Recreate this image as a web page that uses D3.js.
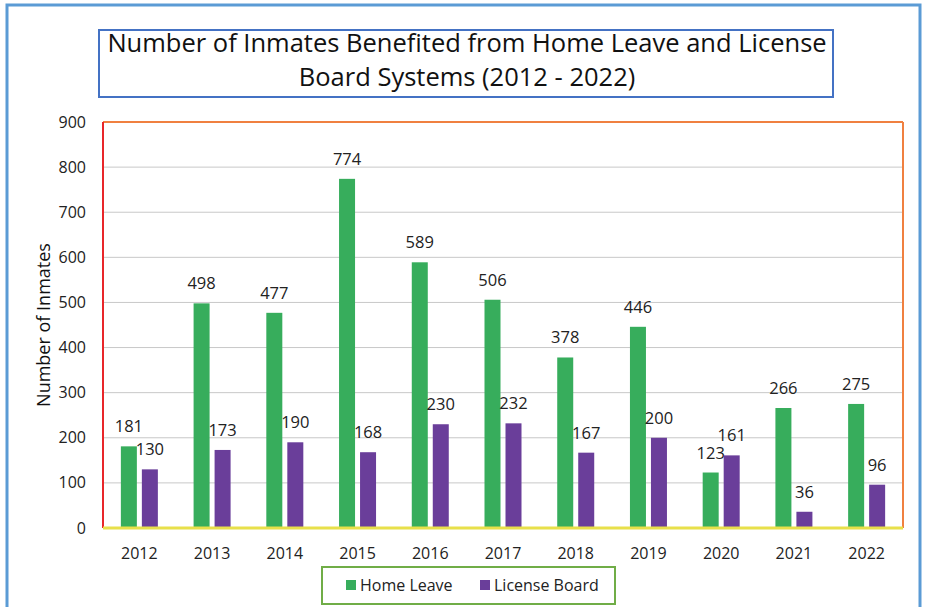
<!DOCTYPE html>
<html>
<head>
<meta charset="utf-8">
<script src="https://cdn.jsdelivr.net/npm/d3@7"></script>
<style>
  body { margin: 0; background: #fff; }
  text { font-family: "Open Sans", "Noto Sans", sans-serif; }
</style>
</head>
<body>
<div id="chart"></div>
<script>
// dati
const years = ["2012", "2013", "2014", "2015", "2016", "2017", "2018", "2019", "2020", "2021", "2022"];
const homeLeave = [181, 498, 477, 774, 589, 506, 378, 446, 123, 266, 275];
const licenseBoard = [130, 173, 190, 168, 230, 232, 167, 200, 161, 36, 96];
const yTicks = [0, 100, 200, 300, 400, 500, 600, 700, 800, 900];
const seriesNames = ["Home Leave", "License Board"];

const green = "#37ad5c";
const purple = "#6a3e9a";

const W = 928, H = 607;
const plot = { left: 103, right: 903, top: 122, bottom: 528 };

const svg = d3.select("#chart").append("svg")
    .attr("width", W)
    .attr("height", H);

// bordo esterno blu
svg.append("rect")
    .attr("x", 7).attr("y", 5)
    .attr("width", 913).attr("height", 620)
    .attr("fill", "none")
    .attr("stroke", "#5b9bd5")
    .attr("stroke-width", 3);

// titolo
svg.append("rect")
    .attr("x", 99).attr("y", 30)
    .attr("width", 734).attr("height", 67)
    .attr("fill", "#fff")
    .attr("stroke", "#4472c4")
    .attr("stroke-width", 2);

const title = svg.append("text")
    .attr("text-anchor", "middle")
    .attr("font-size", 25.5)
    .attr("fill", "#111");
title.append("tspan").attr("x", 467).attr("y", 52).text("Number of Inmates Benefited from Home Leave and License");
title.append("tspan").attr("x", 467).attr("y", 86).text("Board Systems (2012 - 2022)");

const x = d3.scaleBand()
    .domain(years)
    .range([plot.left, plot.right])
    .paddingInner(0)
    .paddingOuter(0);

const y = d3.scaleLinear()
    .domain([0, 900])
    .range([plot.bottom, plot.top]);

// griglia
svg.append("g")
    .selectAll("line")
    .data(yTicks.slice(1, -1))
    .join("line")
    .attr("x1", plot.left).attr("x2", plot.right)
    .attr("y1", d => y(d)).attr("y2", d => y(d))
    .attr("stroke", "#c8c8c8")
    .attr("stroke-width", 1);

// etichette asse y
svg.append("g")
    .selectAll("text")
    .data(yTicks)
    .join("text")
    .attr("x", 86)
    .attr("y", d => y(d))
    .attr("dy", "0.35em")
    .attr("text-anchor", "end")
    .attr("font-size", 16)
    .attr("fill", "#222")
    .text(d => d);

svg.append("text")
    .attr("transform", `translate(50, ${(plot.top + plot.bottom) / 2}) rotate(-90)`)
    .attr("text-anchor", "middle")
    .attr("font-size", 18)
    .attr("fill", "#111")
    .text("Number of Inmates");

// barre
const barW = 16, gap = 5;
const series = [homeLeave, licenseBoard];
const colors = [green, purple];

series.forEach((vals, s) => {
    const offset = s === 0 ? -(barW + gap / 2) : gap / 2;
    const g = svg.append("g");
    g.selectAll("rect")
        .data(vals)
        .join("rect")
        .attr("x", (d, i) => x(years[i]) + x.bandwidth() / 2 + offset)
        .attr("y", d => y(d))
        .attr("width", barW)
        .attr("height", d => y(0) - y(d))
        .attr("fill", colors[s]);
    g.selectAll("text")
        .data(vals)
        .join("text")
        .attr("x", (d, i) => x(years[i]) + x.bandwidth() / 2 + offset + barW / 2)
        .attr("y", d => y(d) - 14)
        .attr("text-anchor", "middle")
        .attr("font-size", 16.5)
        .attr("fill", "#222")
        .text(d => d);
});

// bordi area del grafico
svg.append("line") // sopra
    .attr("x1", plot.left).attr("x2", plot.right)
    .attr("y1", plot.top).attr("y2", plot.top)
    .attr("stroke", "#f08040").attr("stroke-width", 2);
svg.append("line") // destra
    .attr("x1", plot.right).attr("x2", plot.right)
    .attr("y1", plot.top).attr("y2", plot.bottom)
    .attr("stroke", "#f08040").attr("stroke-width", 2);
svg.append("line") // sinistra
    .attr("x1", plot.left).attr("x2", plot.left)
    .attr("y1", plot.top).attr("y2", plot.bottom)
    .attr("stroke", "#e8262a").attr("stroke-width", 2);
svg.append("line") // base
    .attr("x1", plot.left).attr("x2", plot.right)
    .attr("y1", plot.bottom).attr("y2", plot.bottom)
    .attr("stroke", "#e8e04a").attr("stroke-width", 3);

// etichette asse x
svg.append("g")
    .selectAll("text")
    .data(years)
    .join("text")
    .attr("x", d => x(d) + x.bandwidth() / 2)
    .attr("y", 559)
    .attr("text-anchor", "middle")
    .attr("font-size", 16)
    .attr("fill", "#222")
    .text(d => d);

// legenda
svg.append("rect")
    .attr("x", 322).attr("y", 567)
    .attr("width", 293).attr("height", 37)
    .attr("fill", "#fff")
    .attr("stroke", "#70ad47")
    .attr("stroke-width", 2);

const legendX = [346, 480];
seriesNames.forEach((name, i) => {
    svg.append("rect")
        .attr("x", legendX[i]).attr("y", 580)
        .attr("width", 10).attr("height", 10)
        .attr("fill", colors[i]);
    svg.append("text")
        .attr("x", legendX[i] + 14).attr("y", 591)
        .attr("font-size", 16)
        .attr("fill", "#222")
        .text(name);
});
</script>
</body>
</html>
